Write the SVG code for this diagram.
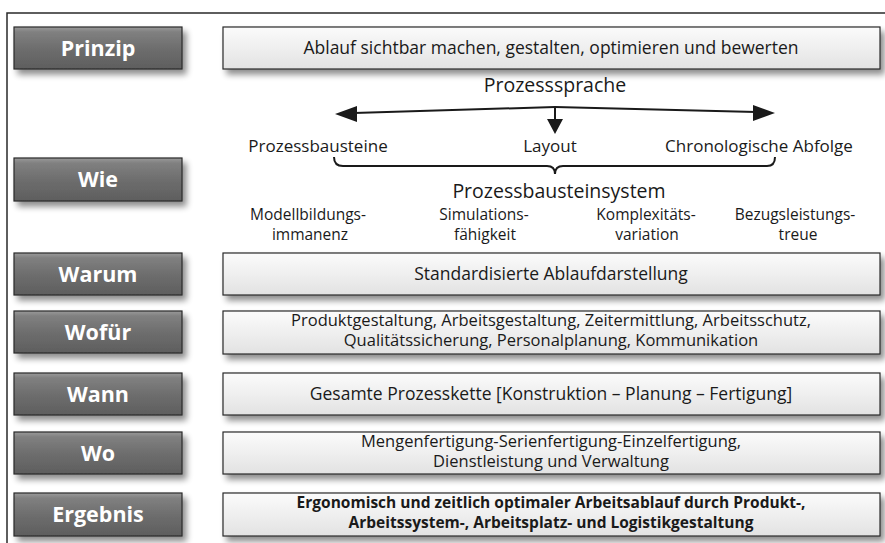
<svg xmlns="http://www.w3.org/2000/svg" width="885" height="543" viewBox="0 0 885 543">
<defs>
<linearGradient id="btnG" x1="0" y1="0" x2="0" y2="1">
<stop offset="0" stop-color="#9a9a9a"/>
<stop offset="0.12" stop-color="#808080"/>
<stop offset="0.5" stop-color="#6e6e6e"/>
<stop offset="1" stop-color="#5e5e5e"/>
</linearGradient>
<linearGradient id="boxG" x1="0" y1="0" x2="0" y2="1">
<stop offset="0" stop-color="#fbfbfb"/>
<stop offset="0.5" stop-color="#efefef"/>
<stop offset="1" stop-color="#e2e2e2"/>
</linearGradient>
<filter id="sh" x="-10%" y="-30%" width="125%" height="180%">
<feGaussianBlur in="SourceAlpha" stdDeviation="3"/>
<feOffset dx="4" dy="5" result="b"/>
<feComponentTransfer><feFuncA type="linear" slope="0.45"/></feComponentTransfer>
<feMerge><feMergeNode/><feMergeNode in="SourceGraphic"/></feMerge>
</filter>
</defs>
<style>
.btn{fill:url(#btnG);stroke:#2a2a2a;stroke-width:1.2}
.box{fill:url(#boxG);stroke:#2a2a2a;stroke-width:1.2}
.bt{font-family:"Open Sans","Noto Sans",sans-serif;font-weight:bold;font-size:21.5px;fill:#ffffff;text-anchor:middle}
.t{font-family:"Open Sans","Noto Sans",sans-serif;font-size:17.5px;fill:#1a1a1a;text-anchor:middle}
.t2{font-family:"Open Sans","Noto Sans",sans-serif;font-size:16.5px;fill:#1a1a1a;text-anchor:middle}
.tb{font-family:"Open Sans","Noto Sans",sans-serif;font-size:15.5px;font-weight:bold;fill:#1a1a1a;text-anchor:middle}
.l{font-family:"Open Sans","Noto Sans",sans-serif;font-size:15.5px;fill:#1a1a1a;text-anchor:middle}
.m{font-family:"Open Sans","Noto Sans",sans-serif;font-size:17px;fill:#1a1a1a;text-anchor:middle}
.h{font-family:"Open Sans","Noto Sans",sans-serif;font-size:19.5px;fill:#1a1a1a;text-anchor:middle}
.ln{fill:none;stroke:#1a1a1a;stroke-width:2}
</style>
<rect width="885" height="543" fill="#ffffff"/>
<path d="M7 543 V13 H885" fill="none" stroke="#2a2a2a" stroke-width="1.5"/>

<g id="prinzip">
<rect class="btn" x="14" y="27" width="168" height="42" filter="url(#sh)"/>
<text class="bt" x="98" y="56">Prinzip</text>
<rect class="box" x="223" y="27" width="657" height="42" filter="url(#sh)"/>
<text class="t" x="551" y="54">Ablauf sichtbar machen, gestalten, optimieren und bewerten</text>
</g>

<g id="wie">
<rect class="btn" x="14" y="158" width="168" height="43" filter="url(#sh)"/>
<text class="bt" x="98" y="187">Wie</text>
<text class="h" x="555" y="92">Prozesssprache</text>
<text class="m" x="318" y="152">Prozessbausteine</text>
<text class="m" x="550" y="152">Layout</text>
<text class="m" x="759" y="152">Chronologische Abfolge</text>
<text class="h" x="559" y="198">Prozessbausteinsystem</text>
<text class="l" x="308" y="220">Modellbildungs-</text>
<text class="l" x="310" y="240">immanenz</text>
<text class="l" x="484" y="220">Simulations-</text>
<text class="l" x="485" y="240">fähigkeit</text>
<text class="l" x="646" y="220">Komplexitäts-</text>
<text class="l" x="647" y="240">variation</text>
<text class="l" x="795" y="220">Bezugsleistungs-</text>
<text class="l" x="798" y="240">treue</text>
</g>

<g id="connectors">
<path class="ln" d="M555 107 L354 113"/>
<path class="ln" d="M555 107 L756 112"/>
<path class="ln" d="M555 107 V121"/>
<polygon points="335,114 357,106 357,122" fill="#1a1a1a"/>
<polygon points="775,113 753,105 753,121" fill="#1a1a1a"/>
<polygon points="555,134 547,119 563,119" fill="#1a1a1a"/>
<path class="ln" d="M334 157 Q334 166 343 166 H547 Q555 166 555 174 Q555 166 563 166 H767 Q775 166 775 157"/>
</g>

<g id="warum">
<rect class="btn" x="14" y="253" width="168" height="42" filter="url(#sh)"/>
<text class="bt" x="98" y="282">Warum</text>
<rect class="box" x="223" y="253" width="657" height="42" filter="url(#sh)"/>
<text class="t" x="551" y="280">Standardisierte Ablaufdarstellung</text>
</g>

<g id="wofuer">
<rect class="btn" x="14" y="311" width="168" height="42" filter="url(#sh)"/>
<text class="bt" x="98" y="340">Wofür</text>
<rect class="box" x="223" y="311" width="657" height="43" filter="url(#sh)"/>
<text class="t2" x="551" y="326">Produktgestaltung, Arbeitsgestaltung, Zeitermittlung, Arbeitsschutz,</text>
<text class="t2" x="551" y="346">Qualitätssicherung, Personalplanung, Kommunikation</text>
</g>

<g id="wann">
<rect class="btn" x="14" y="373" width="168" height="42" filter="url(#sh)"/>
<text class="bt" x="98" y="402">Wann</text>
<rect class="box" x="223" y="373" width="657" height="42" filter="url(#sh)"/>
<text class="t" x="551" y="400">Gesamte Prozesskette [Konstruktion – Planung – Fertigung]</text>
</g>

<g id="wo">
<rect class="btn" x="14" y="432" width="168" height="42" filter="url(#sh)"/>
<text class="bt" x="98" y="461">Wo</text>
<rect class="box" x="223" y="432" width="657" height="42" filter="url(#sh)"/>
<text class="t2" x="551" y="447">Mengenfertigung-Serienfertigung-Einzelfertigung,</text>
<text class="t2" x="551" y="467">Dienstleistung und Verwaltung</text>
</g>

<g id="ergebnis">
<rect class="btn" x="14" y="493" width="168" height="43" filter="url(#sh)"/>
<text class="bt" x="98" y="522">Ergebnis</text>
<rect class="box" x="223" y="493" width="657" height="43" filter="url(#sh)"/>
<text class="tb" x="551" y="508">Ergonomisch und zeitlich optimaler Arbeitsablauf durch Produkt-,</text>
<text class="tb" x="551" y="528">Arbeitssystem-, Arbeitsplatz- und Logistikgestaltung</text>
</g>
</svg>
